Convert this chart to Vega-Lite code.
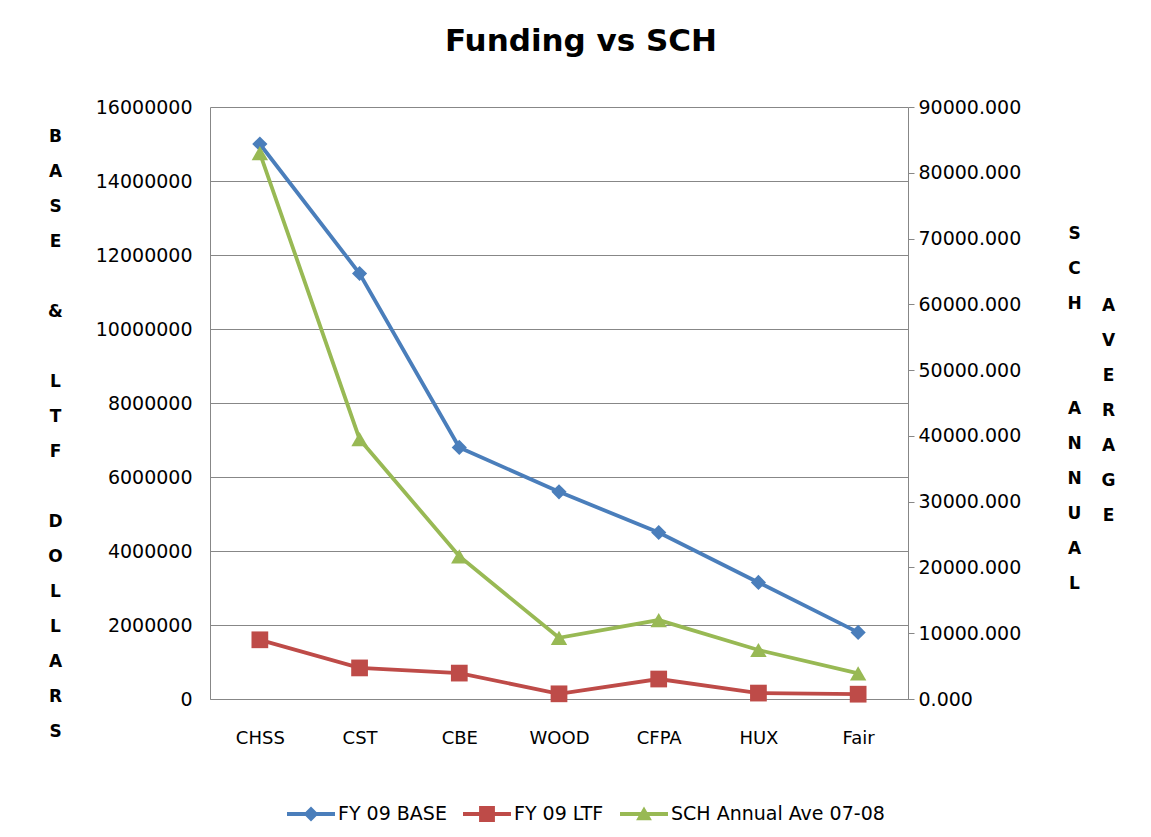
{
  "$schema": "https://vega.github.io/schema/vega-lite/v6.json",
  "width": 698,
  "height": 592,
  "autosize": {"type": "none"},
  "padding": {"left": 210, "top": 107, "right": 243, "bottom": 138},
  "background": "white",
  "config": {
    "view": {"stroke": null},
    "font": "DejaVu Sans"
  },
  "title": {
    "text": "Funding vs SCH",
    "font": "DejaVu Sans",
    "fontSize": 31,
    "fontWeight": "bold",
    "color": "#000000",
    "anchor": "middle",
    "frame": "group",
    "dx": 22,
    "offset": 40
  },
  "data": {
    "values": [
      {"college": "CHSS", "series": "FY 09 BASE", "value": 15000000},
      {"college": "CST", "series": "FY 09 BASE", "value": 11500000},
      {"college": "CBE", "series": "FY 09 BASE", "value": 6800000},
      {"college": "WOOD", "series": "FY 09 BASE", "value": 5600000},
      {"college": "CFPA", "series": "FY 09 BASE", "value": 4500000},
      {"college": "HUX", "series": "FY 09 BASE", "value": 3150000},
      {"college": "Fair", "series": "FY 09 BASE", "value": 1800000},
      {"college": "CHSS", "series": "FY 09 LTF", "value": 1600000},
      {"college": "CST", "series": "FY 09 LTF", "value": 840000},
      {"college": "CBE", "series": "FY 09 LTF", "value": 700000},
      {"college": "WOOD", "series": "FY 09 LTF", "value": 140000},
      {"college": "CFPA", "series": "FY 09 LTF", "value": 540000},
      {"college": "HUX", "series": "FY 09 LTF", "value": 160000},
      {"college": "Fair", "series": "FY 09 LTF", "value": 130000},
      {"college": "CHSS", "series": "SCH Annual Ave 07-08", "value": 83000},
      {"college": "CST", "series": "SCH Annual Ave 07-08", "value": 39500},
      {"college": "CBE", "series": "SCH Annual Ave 07-08", "value": 21700},
      {"college": "WOOD", "series": "SCH Annual Ave 07-08", "value": 9300},
      {"college": "CFPA", "series": "SCH Annual Ave 07-08", "value": 12000},
      {"college": "HUX", "series": "SCH Annual Ave 07-08", "value": 7450},
      {"college": "Fair", "series": "SCH Annual Ave 07-08", "value": 3900}
    ]
  },
  "encoding": {
    "x": {
      "field": "college",
      "type": "nominal",
      "sort": ["CHSS", "CST", "CBE", "WOOD", "CFPA", "HUX", "Fair"],
      "scale": {"type": "point", "padding": 0.5},
      "axis": {
        "orient": "bottom",
        "labelAngle": 0,
        "labelFont": "DejaVu Sans",
        "labelFontSize": 18,
        "labelColor": "#000000",
        "labelPadding": 30,
        "ticks": false,
        "grid": false,
        "domain": true,
        "domainColor": "#878787",
        "domainWidth": 1,
        "title": ["A", "V", "E", "R", "A", "G", "E"],
        "titleAngle": 0,
        "titleX": 898,
        "titleY": -394,
        "titleAlign": "center",
        "titleBaseline": "middle",
        "titleLineHeight": 35,
        "titleFont": "DejaVu Sans",
        "titleFontSize": 17,
        "titleFontWeight": "bold",
        "titleColor": "#000000"
      }
    }
  },
  "layer": [
    {
      "transform": [{"filter": "datum.series !== 'SCH Annual Ave 07-08'"}],
      "encoding": {
        "y": {
          "field": "value",
          "type": "quantitative",
          "scale": {"domain": [0, 16000000], "nice": false},
          "axis": {
            "orient": "left",
            "values": [0, 2000000, 4000000, 6000000, 8000000, 10000000, 12000000, 14000000, 16000000],
            "format": "d",
            "labelFont": "DejaVu Sans",
            "labelFontSize": 19,
            "labelColor": "#000000",
            "labelPadding": 18,
            "ticks": false,
            "grid": true,
            "gridColor": "#878787",
            "gridWidth": 1,
            "domain": true,
            "domainColor": "#878787",
            "title": ["B", "A", "S", "E", "\u200b", "&", "\u200b", "L", "T", "F", "\u200b", "D", "O", "L", "L", "A", "R", "S"],
            "titleAngle": 0,
            "titleX": -155,
            "titleY": 29,
            "titleAlign": "center",
            "titleBaseline": "middle",
            "titleLineHeight": 35,
            "titleFont": "DejaVu Sans",
            "titleFontSize": 17,
            "titleFontWeight": "bold",
            "titleColor": "#000000"
          }
        },
        "color": {
          "field": "series",
          "type": "nominal",
          "scale": {
            "domain": ["FY 09 BASE", "FY 09 LTF", "SCH Annual Ave 07-08"],
            "range": ["#4A7EBB", "#BE4B48", "#98B954"]
          },
          "legend": null
        }
      },
      "layer": [
        {"mark": {"type": "line", "strokeWidth": 3.8}},
        {
          "transform": [{"filter": "datum.series === 'FY 09 BASE'"}],
          "mark": {"type": "point", "shape": "diamond", "filled": true, "size": 230, "opacity": 1}
        },
        {
          "transform": [{"filter": "datum.series === 'FY 09 LTF'"}],
          "mark": {"type": "point", "shape": "square", "filled": true, "size": 280, "opacity": 1}
        }
      ]
    },
    {
      "transform": [{"filter": "datum.series === 'SCH Annual Ave 07-08'"}],
      "encoding": {
        "y": {
          "field": "value",
          "type": "quantitative",
          "scale": {"domain": [0, 90000], "nice": false},
          "axis": {
            "orient": "right",
            "values": [0, 10000, 20000, 30000, 40000, 50000, 60000, 70000, 80000, 90000],
            "format": ".3f",
            "labelFont": "DejaVu Sans",
            "labelFontSize": 19,
            "labelColor": "#000000",
            "labelPadding": 4,
            "ticks": true,
            "tickSize": 6,
            "tickColor": "#878787",
            "grid": false,
            "domain": true,
            "domainColor": "#878787",
            "title": ["S", "C", "H", "\u200b", "\u200b", "A", "N", "N", "U", "A", "L"],
            "titleAngle": 0,
            "titleX": 166,
            "titleY": 126,
            "titleAlign": "center",
            "titleBaseline": "middle",
            "titleLineHeight": 35,
            "titleFont": "DejaVu Sans",
            "titleFontSize": 17,
            "titleFontWeight": "bold",
            "titleColor": "#000000"
          }
        },
        "color": {
          "field": "series",
          "type": "nominal",
          "legend": null
        }
      },
      "layer": [
        {"mark": {"type": "line", "strokeWidth": 3.8}},
        {"mark": {"type": "point", "shape": "triangle-up", "filled": true, "size": 270, "opacity": 1}}
      ]
    },
    {
      "transform": [{"filter": "false"}],
      "mark": {"type": "point", "filled": true, "opacity": 1},
      "encoding": {
        "color": {
          "field": "series",
          "type": "nominal",
          "legend": {
            "orient": "none",
            "legendX": 77,
            "legendY": 683,
            "direction": "horizontal",
            "title": null,
            "symbolSize": 2304,
            "symbolStrokeWidth": 0,
            "symbolOpacity": 1,
            "labelFont": "DejaVu Sans",
            "labelFontSize": 19,
            "labelColor": "#000000",
            "labelOffset": 3,
            "labelLimit": 400,
            "columnPadding": 16
          }
        },
        "shape": {
          "field": "series",
          "type": "nominal",
          "scale": {
            "domain": ["FY 09 BASE", "FY 09 LTF", "SCH Annual Ave 07-08"],
            "range": [
              "M-1,-0.08H1V0.08H-1Z M0,-0.31L0.31,0L0,0.31L-0.31,0Z",
              "M-1,-0.08H1V0.08H-1Z M-0.33,-0.33H0.33V0.33H-0.33Z",
              "M-1,-0.08H1V0.08H-1Z M0,-0.31L0.33,0.26H-0.33Z"
            ]
          },
          "legend": {
            "orient": "none",
            "legendX": 77,
            "legendY": 683,
            "direction": "horizontal",
            "title": null,
            "symbolSize": 2304,
            "symbolStrokeWidth": 0,
            "symbolOpacity": 1,
            "labelFont": "DejaVu Sans",
            "labelFontSize": 19,
            "labelColor": "#000000",
            "labelOffset": 3,
            "labelLimit": 400,
            "columnPadding": 16
          }
        }
      }
    }
  ],
  "resolve": {
    "scale": {"y": "independent"},
    "legend": {"color": "independent", "shape": "independent"}
  }
}
